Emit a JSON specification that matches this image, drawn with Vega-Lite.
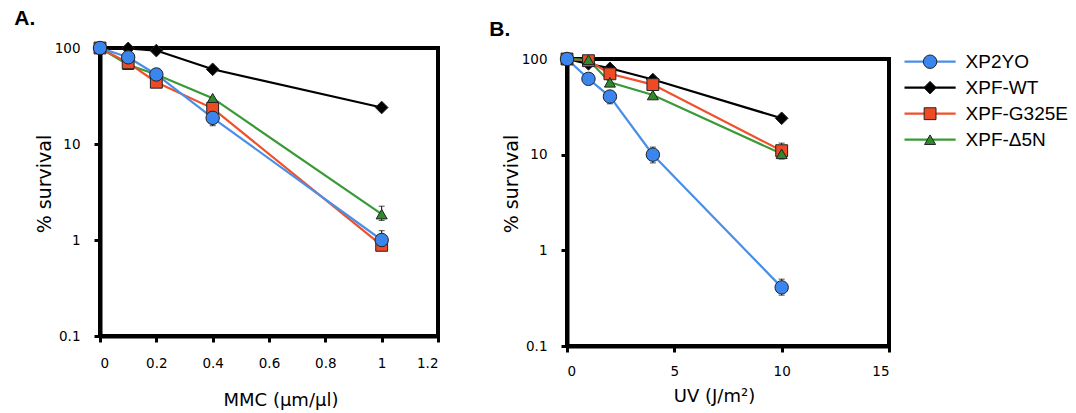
{
  "$schema": "https://vega.github.io/schema/vega-lite/v6.json",
  "padding": {"left": 12, "top": 0, "right": 0, "bottom": 0},
  "background": "white",
  "config": {
    "font": "DejaVu Sans",
    "view": {"stroke": "black", "strokeWidth": 4},
    "axis": {"grid": false, "domainColor": "black", "domainWidth": 4, "tickColor": "black", "tickWidth": 3, "tickSize": 6, "labelColor": "black", "labelFont": "DejaVu Sans", "labelFontSize": 13.5, "titleColor": "black", "titleFont": "DejaVu Sans", "titleFontWeight": "normal", "labelOverlap": false},
    "title": {"font": "Liberation Sans", "fontSize": 21, "fontWeight": "bold", "anchor": "start", "color": "black"}
  },
  "datasets": {
    "mmc": [
      {"series": "XPF-WT", "dose": 0, "surv": 100},
      {"series": "XPF-WT", "dose": 0.1, "surv": 99},
      {"series": "XPF-WT", "dose": 0.2, "surv": 94},
      {"series": "XPF-WT", "dose": 0.4, "surv": 60},
      {"series": "XPF-WT", "dose": 1, "surv": 24},
      {"series": "XPF-Δ5N", "dose": 0, "surv": 100},
      {"series": "XPF-Δ5N", "dose": 0.1, "surv": 67},
      {"series": "XPF-Δ5N", "dose": 0.2, "surv": 53},
      {"series": "XPF-Δ5N", "dose": 0.4, "surv": 30},
      {"series": "XPF-Δ5N", "dose": 1, "surv": 1.86, "lo": 1.6, "hi": 2.25},
      {"series": "XPF-G325E", "dose": 0, "surv": 100},
      {"series": "XPF-G325E", "dose": 0.1, "surv": 70},
      {"series": "XPF-G325E", "dose": 0.2, "surv": 44},
      {"series": "XPF-G325E", "dose": 0.4, "surv": 23.5, "lo": 20, "hi": 27},
      {"series": "XPF-G325E", "dose": 1, "surv": 0.88, "lo": 0.78, "hi": 1.0},
      {"series": "XP2YO", "dose": 0, "surv": 100},
      {"series": "XP2YO", "dose": 0.1, "surv": 80},
      {"series": "XP2YO", "dose": 0.2, "surv": 53},
      {"series": "XP2YO", "dose": 0.4, "surv": 18.7, "lo": 15.5, "hi": 22.5},
      {"series": "XP2YO", "dose": 1, "surv": 1.0, "lo": 0.8, "hi": 1.25}
    ],
    "uv": [
      {"series": "XPF-WT", "dose": 0, "surv": 100},
      {"series": "XPF-WT", "dose": 1, "surv": 89},
      {"series": "XPF-WT", "dose": 2, "surv": 80},
      {"series": "XPF-WT", "dose": 4, "surv": 61},
      {"series": "XPF-WT", "dose": 10, "surv": 24},
      {"series": "XPF-G325E", "dose": 0, "surv": 100},
      {"series": "XPF-G325E", "dose": 1, "surv": 96},
      {"series": "XPF-G325E", "dose": 2, "surv": 70},
      {"series": "XPF-G325E", "dose": 4, "surv": 54},
      {"series": "XPF-G325E", "dose": 10, "surv": 11, "lo": 9.7, "hi": 13.2},
      {"series": "XPF-Δ5N", "dose": 0, "surv": 100},
      {"series": "XPF-Δ5N", "dose": 1, "surv": 98},
      {"series": "XPF-Δ5N", "dose": 2, "surv": 57},
      {"series": "XPF-Δ5N", "dose": 4, "surv": 42},
      {"series": "XPF-Δ5N", "dose": 10, "surv": 10.2, "lo": 9, "hi": 11.5},
      {"series": "XP2YO", "dose": 0, "surv": 100},
      {"series": "XP2YO", "dose": 1, "surv": 62, "lo": 56, "hi": 68},
      {"series": "XP2YO", "dose": 2, "surv": 40.5, "lo": 34, "hi": 46},
      {"series": "XP2YO", "dose": 4, "surv": 10, "lo": 8.2, "hi": 12},
      {"series": "XP2YO", "dose": 10, "surv": 0.41, "lo": 0.34, "hi": 0.5}
    ],
    "leg": [
      {"series": "XP2YO"},
      {"series": "XPF-WT"},
      {"series": "XPF-G325E"},
      {"series": "XPF-Δ5N"}
    ],
    "none": []
  },
  "spacing": 9.5,
  "hconcat": [
    {
      "spacing": 45,
      "hconcat": [
        {
          "spacing": 5,
          "vconcat": [
            {"width": 1, "height": 1, "view": {"stroke": null, "fill": "white"}, "data": {"name": "none"}, "mark": "point"},
            {
              "width": 338,
              "height": 288,
              "title": {"text": "A.", "offset": 10, "dx": -21},
              "data": {"name": "mmc"},
              "encoding": {
                "x": {"field": "dose", "type": "quantitative", "scale": {"domain": [0, 1.2], "nice": false, "zero": false}, "axis": {"values": [0, 0.2, 0.4, 0.6, 0.8, 1, 1.2], "format": "~g", "title": "MMC (μm/μl)", "titleFontSize": 18, "labelPadding": 14, "titlePadding": 22, "titleX": 180.5}},
                "y": {"field": "surv", "type": "quantitative", "title": "% survival", "scale": {"type": "log", "domain": [0.1, 100], "nice": false}, "axis": {"values": [0.1, 1, 10, 100], "format": "~g", "titleFontSize": 19, "labelPadding": 14, "titlePadding": 0, "titleY": 135.5}}
              },
              "layer": [
                {"mark": {"type": "line", "strokeWidth": 2.2}, "encoding": {"stroke": {"field": "series", "type": "nominal", "scale": {"domain": ["XP2YO", "XPF-WT", "XPF-G325E", "XPF-Δ5N"], "range": ["#4a8fe6", "#000000", "#f0502c", "#3a9a36"]}, "legend": null}}},
                {"transform": [{"filter": "datum.lo != null"}], "mark": {"type": "errorbar", "ticks": {"size": 6}, "color": "black", "thickness": 1}, "encoding": {"y": {"field": "lo", "type": "quantitative", "title": "% survival"}, "y2": {"field": "hi"}}},
                {"mark": {"type": "point", "filled": true, "opacity": 1, "stroke": "#222222", "strokeWidth": 1}, "encoding": {
                  "fill": {"field": "series", "type": "nominal", "scale": {"domain": ["XP2YO", "XPF-WT", "XPF-G325E", "XPF-Δ5N"], "range": ["#3b86ee", "#000000", "#ee4a24", "#2f8a2b"]}, "legend": null},
                  "shape": {"field": "series", "type": "nominal", "scale": {"domain": ["XP2YO", "XPF-WT", "XPF-G325E", "XPF-Δ5N"], "range": ["circle", "diamond", "square", "triangle-up"]}, "legend": null},
                  "size": {"field": "series", "type": "ordinal", "scale": {"domain": ["XP2YO", "XPF-WT", "XPF-G325E", "XPF-Δ5N"], "range": [180, 121, 150, 180]}, "legend": null}
                }}
              ]
            }
          ]
        },
        {
          "spacing": 5,
          "vconcat": [
            {"width": 1, "height": 12, "view": {"stroke": null, "fill": "white"}, "data": {"name": "none"}, "mark": "point"},
            {
              "width": 322,
              "height": 287,
              "title": {"text": "B.", "offset": 10, "dx": -13},
              "data": {"name": "uv"},
              "encoding": {
                "x": {"field": "dose", "type": "quantitative", "scale": {"domain": [0, 15], "nice": false, "zero": false}, "axis": {"values": [0, 5, 10, 15], "format": "~g", "title": "UV (J/m²)", "titleFontSize": 18, "labelPadding": 12.5, "titlePadding": 9, "titleX": 147}},
                "y": {"field": "surv", "type": "quantitative", "title": "% survival", "scale": {"type": "log", "domain": [0.1, 100], "nice": false}, "axis": {"values": [0.1, 1, 10, 100], "format": "~g", "titleFontSize": 19, "labelPadding": 14, "titlePadding": 0, "titleY": 124.5}}
              },
              "layer": [
                {"mark": {"type": "line", "strokeWidth": 2.2}, "encoding": {"stroke": {"field": "series", "type": "nominal", "scale": {"domain": ["XP2YO", "XPF-WT", "XPF-G325E", "XPF-Δ5N"], "range": ["#4a8fe6", "#000000", "#f0502c", "#3a9a36"]}, "legend": null}}},
                {"transform": [{"filter": "datum.lo != null"}], "mark": {"type": "errorbar", "ticks": {"size": 6}, "color": "black", "thickness": 1}, "encoding": {"y": {"field": "lo", "type": "quantitative", "title": "% survival"}, "y2": {"field": "hi"}}},
                {"mark": {"type": "point", "filled": true, "opacity": 1, "stroke": "#222222", "strokeWidth": 1}, "encoding": {
                  "fill": {"field": "series", "type": "nominal", "scale": {"domain": ["XP2YO", "XPF-WT", "XPF-G325E", "XPF-Δ5N"], "range": ["#3b86ee", "#000000", "#ee4a24", "#2f8a2b"]}, "legend": null},
                  "shape": {"field": "series", "type": "nominal", "scale": {"domain": ["XP2YO", "XPF-WT", "XPF-G325E", "XPF-Δ5N"], "range": ["circle", "diamond", "square", "triangle-up"]}, "legend": null},
                  "size": {"field": "series", "type": "ordinal", "scale": {"domain": ["XP2YO", "XPF-WT", "XPF-G325E", "XPF-Δ5N"], "range": [180, 121, 150, 180]}, "legend": null}
                }}
              ]
            }
          ]
        }
      ]
    },
    {
      "spacing": 34.7,
      "vconcat": [
        {"width": 1, "height": 1, "view": {"stroke": null, "fill": "white"}, "data": {"name": "none"}, "mark": "point"},
        {
          "width": 165,
          "height": 130,
          "view": {"stroke": null, "fill": "white"},
          "data": {"name": "leg"},
          "encoding": {
            "y": {"field": "series", "type": "nominal", "scale": {"type": "point", "domain": ["XP2YO", "XPF-WT", "XPF-G325E", "XPF-Δ5N"], "padding": 1}, "axis": null}
          },
          "layer": [
            {"mark": {"type": "rule", "strokeWidth": 2.2}, "encoding": {
              "x": {"datum": 0, "type": "quantitative", "scale": {"domain": [0, 1], "nice": false}, "axis": null},
              "x2": {"datum": 0.31},
              "stroke": {"field": "series", "type": "nominal", "scale": {"domain": ["XP2YO", "XPF-WT", "XPF-G325E", "XPF-Δ5N"], "range": ["#4a8fe6", "#000000", "#f0502c", "#3a9a36"]}, "legend": null}
            }},
            {"mark": {"type": "point", "filled": true, "opacity": 1, "stroke": "#222222", "strokeWidth": 1}, "encoding": {
              "x": {"datum": 0.155, "type": "quantitative", "scale": {"domain": [0, 1], "nice": false}, "axis": null},
              "fill": {"field": "series", "type": "nominal", "scale": {"domain": ["XP2YO", "XPF-WT", "XPF-G325E", "XPF-Δ5N"], "range": ["#3b86ee", "#000000", "#ee4a24", "#2f8a2b"]}, "legend": null},
              "shape": {"field": "series", "type": "nominal", "scale": {"domain": ["XP2YO", "XPF-WT", "XPF-G325E", "XPF-Δ5N"], "range": ["circle", "diamond", "square", "triangle-up"]}, "legend": null},
              "size": {"field": "series", "type": "ordinal", "scale": {"domain": ["XP2YO", "XPF-WT", "XPF-G325E", "XPF-Δ5N"], "range": [180, 121, 150, 180]}, "legend": null}
            }},
            {"mark": {"type": "text", "align": "left", "baseline": "middle", "font": "Liberation Sans", "fontSize": 19, "color": "black"}, "encoding": {
              "x": {"datum": 0.37, "type": "quantitative", "scale": {"domain": [0, 1], "nice": false}, "axis": null},
              "text": {"field": "series"}
            }}
          ]
        }
      ]
    }
  ]
}
